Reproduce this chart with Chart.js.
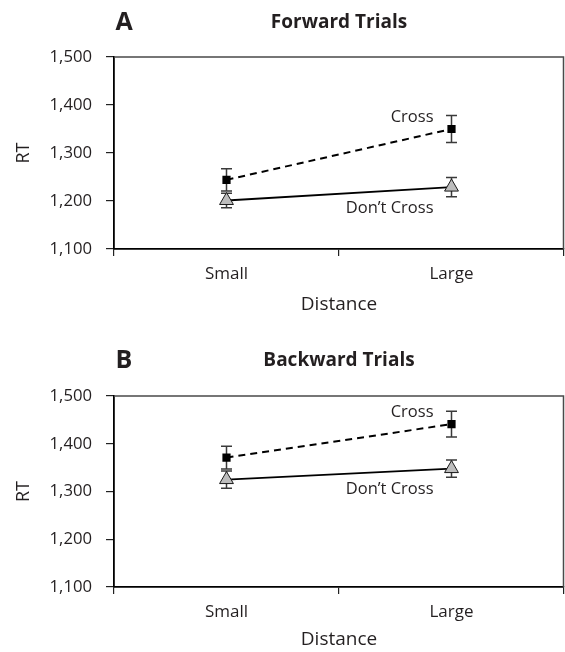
<!DOCTYPE html>
<html><head><meta charset="utf-8">
<script src="https://cdn.jsdelivr.net/npm/chart.js@4.4.0/dist/chart.umd.min.js"></script>
<style>
html,body{margin:0;padding:0;background:#fff;overflow:hidden;width:565px;height:652px;}
.p{position:relative;width:573px;}
canvas{display:block;}
</style></head><body>
<div class="p" style="height:338px"><canvas id="cA"></canvas></div>
<div class="p" style="height:314px"><canvas id="cB"></canvas></div>
<script>
const categories = ['Small', 'Large'];
const yTicks = [1100, 1200, 1300, 1400, 1500];
const seriesNames = ['Cross', 'Don’t Cross'];

const forwardCross = [1244, 1350];
const forwardCrossErr = [23, 28];
const forwardNoCross = [1201, 1229];
const forwardNoCrossErr = [15, 20];

const backwardCross = [1371, 1441];
const backwardCrossErr = [24, 27];
const backwardNoCross = [1325, 1348];
const backwardNoCrossErr = [18, 18];

const FONT = "'Open Sans', sans-serif";
const INK = '#231f20';

function makePanel(id, opt) {
  const deco = {
    id: 'deco',
    beforeDatasetsDraw(chart) {
      const ctx = chart.ctx, xs = chart.scales.x, ys = chart.scales.y;
      ctx.save();
      ctx.strokeStyle = '#3a3a3a';
      ctx.lineWidth = 1.5;
      opt.series.forEach((vals, di) => {
        const err = opt.errs[di];
        vals.forEach((v, i) => {
          const px = xs.getPixelForValue(i);
          const t = ys.getPixelForValue(v + err[i]);
          const b = ys.getPixelForValue(v - err[i]);
          ctx.beginPath();
          ctx.moveTo(px, t); ctx.lineTo(px, b);
          ctx.moveTo(px - 5.5, t); ctx.lineTo(px + 5.5, t);
          ctx.moveTo(px - 5.5, b); ctx.lineTo(px + 5.5, b);
          ctx.stroke();
        });
      });
      ctx.restore();
    },
    afterDraw(chart) {
      const ctx = chart.ctx, a = chart.chartArea, xs = chart.scales.x, ys = chart.scales.y;
      ctx.save();
      ctx.strokeStyle = '#4a4a4a';
      ctx.lineWidth = 1.5;
      ctx.beginPath();
      ctx.moveTo(a.left, a.top); ctx.lineTo(a.right - 0.5, a.top); ctx.lineTo(a.right - 0.5, a.bottom);
      ctx.stroke();
      ctx.fillStyle = INK;
      ctx.textBaseline = 'middle';
      ctx.textAlign = 'center';
      ctx.font = "bold 25px " + FONT;
      ctx.fillText(opt.letter, 124, 23);
      ctx.font = "bold 19px " + FONT;
      ctx.fillText(opt.title, (a.left + a.right) / 2, 23);
      ctx.font = "16.5px " + FONT;
      ctx.textAlign = 'right';
      const li = categories.length - 1;
      const px = xs.getPixelForValue(li);
      ctx.fillText(seriesNames[0], px - 18, ys.getPixelForValue(opt.series[0][li]) - 12);
      ctx.fillText(seriesNames[1], px - 18, ys.getPixelForValue(opt.series[1][li]) + 21);
      ctx.restore();
    }
  };

  return new Chart(document.getElementById(id), {
    type: 'line',
    data: {
      labels: categories,
      datasets: [
        {
          label: seriesNames[0],
          data: opt.series[0],
          borderColor: '#000',
          borderWidth: 2,
          borderDash: [7, 5],
          tension: 0,
          pointStyle: 'rect',
          pointRadius: 5.8,
          pointBackgroundColor: '#000',
          pointBorderColor: '#000',
          pointBorderWidth: 0
        },
        {
          label: seriesNames[1],
          data: opt.series[1],
          borderColor: '#000',
          borderWidth: 1.8,
          tension: 0,
          pointStyle: 'triangle',
          pointRadius: 8,
          pointBackgroundColor: '#bdbdbd',
          pointBorderColor: '#1a1a1a',
          pointBorderWidth: 1
        }
      ]
    },
    options: {
      responsive: true,
      maintainAspectRatio: false,
      animation: false,
      devicePixelRatio: 1,
      layout: { padding: { left: 0, right: 0, top: opt.top, bottom: 0 } },
      plugins: { legend: { display: false }, tooltip: { enabled: false } },
      scales: {
        x: {
          type: 'category',
          offset: true,
          grid: { offset: true, drawOnChartArea: false, tickLength: 7, color: '#222', lineWidth: 1.2 },
          border: { display: true, color: '#000', width: 1.8 },
          ticks: { color: INK, font: { family: FONT, size: 17 }, padding: 8 },
          title: { display: true, text: 'Distance', color: INK, font: { family: FONT, size: 19, lineHeight: 1 }, padding: { top: 0, bottom: opt.xTitlePad } },
          afterFit(s) { s.height = opt.xHeight; }
        },
        y: {
          min: 1100, max: 1500,
          afterBuildTicks(s) { s.ticks = yTicks.map(v => ({ value: v })); },
          grid: { drawOnChartArea: false, tickLength: 8, color: '#222', lineWidth: 1.2 },
          border: { display: true, color: '#000', width: 1.8 },
          ticks: { color: INK, font: { family: FONT, size: 16.7 }, padding: 14,
                   callback: v => Number(v).toLocaleString('en-US') },
          title: { display: true, text: 'RT', color: INK, font: { family: FONT, size: 18 }, padding: { top: 13, bottom: 0 } },
          afterFit(s) { s.width = 114; }
        }
      }
    },
    plugins: [deco]
  });
}

makePanel('cA', {
  letter: 'A', title: 'Forward Trials',
  top: 57, xHeight: 89, xTitlePad: 23.5,
  series: [forwardCross, forwardNoCross],
  errs: [forwardCrossErr, forwardNoCrossErr]
});
makePanel('cB', {
  letter: 'B', title: 'Backward Trials',
  top: 58, xHeight: 65, xTitlePad: 2.5,
  series: [backwardCross, backwardNoCross],
  errs: [backwardCrossErr, backwardNoCrossErr]
});
</script>
</body></html>
